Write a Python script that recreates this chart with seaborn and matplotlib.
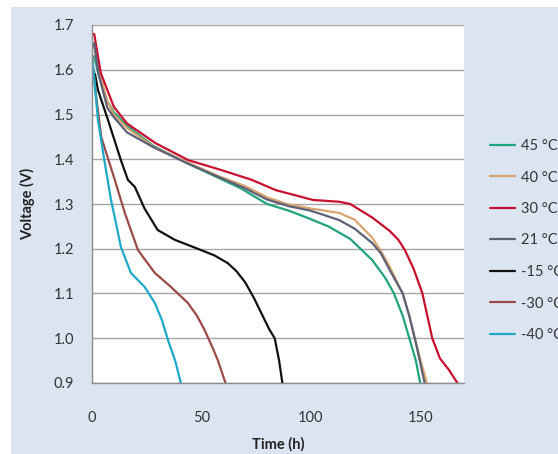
import numpy as np
import pandas as pd
import matplotlib
matplotlib.use("Agg")
import matplotlib.pyplot as plt
from matplotlib.patches import Rectangle
import seaborn as sns

labels = ["45 °C", "40 °C", "30 °C", "21 °C", "-15 °C", "-30 °C", "-40 °C"]
colors = ["#1fa37c", "#d9a46e", "#c8102e", "#5c6178", "#111111", "#9a4b47", "#1fa9c9"]

t_45 = [0, 1, 3, 7, 10, 16, 28, 44, 58, 68, 80, 90, 98, 108, 118, 128, 134, 138, 142, 145, 148, 150]
v_45 = [1.63, 1.63, 1.59, 1.53, 1.505, 1.475, 1.43, 1.39, 1.358, 1.335, 1.30, 1.285, 1.27, 1.25, 1.222, 1.175, 1.135, 1.10, 1.05, 1.00, 0.95, 0.90]

t_40 = [0, 1, 3, 7, 10, 16, 28, 44, 58, 70, 80, 89, 100, 113, 120, 128, 132, 136, 142, 145, 148, 153]
v_40 = [1.66, 1.65, 1.60, 1.53, 1.50, 1.47, 1.428, 1.392, 1.362, 1.34, 1.315, 1.30, 1.29, 1.28, 1.265, 1.225, 1.195, 1.16, 1.10, 1.05, 0.99, 0.90]

t_30 = [0, 1, 4, 10, 16, 29, 44, 59, 73, 84, 101, 113, 118, 128, 136, 140, 143, 147, 151, 155.5, 159, 163, 167]
v_30 = [1.68, 1.68, 1.593, 1.517, 1.48, 1.436, 1.398, 1.376, 1.354, 1.331, 1.309, 1.305, 1.30, 1.27, 1.24, 1.22, 1.197, 1.155, 1.10, 1.00, 0.955, 0.93, 0.90]

t_21 = [0, 1, 3, 7, 10, 16, 28, 44, 58, 70, 80, 90, 100, 113, 120, 128, 132, 136, 142, 145, 148, 152]
v_21 = [1.65, 1.66, 1.59, 1.515, 1.494, 1.46, 1.427, 1.39, 1.36, 1.335, 1.31, 1.295, 1.285, 1.264, 1.245, 1.213, 1.19, 1.153, 1.10, 1.05, 0.99, 0.90]

t_m15 = [0, 1.4, 2.7, 7.3, 13.2, 16.4, 19.6, 24, 30, 37.8, 48.3, 56, 62, 66, 70, 74, 78, 81, 83.5, 85.5, 87]
v_m15 = [1.60, 1.59, 1.555, 1.488, 1.398, 1.354, 1.338, 1.29, 1.242, 1.22, 1.20, 1.185, 1.168, 1.15, 1.125, 1.09, 1.05, 1.02, 1.00, 0.95, 0.90]

t_m30 = [0, 1.4, 4.2, 10.4, 15, 21, 28.7, 36, 43.8, 48, 51.5, 55, 57.5, 61]
v_m30 = [1.63, 1.56, 1.45, 1.354, 1.28, 1.197, 1.146, 1.115, 1.079, 1.05, 1.018, 0.98, 0.951, 0.90]

t_m40 = [0, 0.5, 2.7, 5.9, 8.7, 10.4, 13.2, 17.8, 24, 28.7, 32, 34.7, 38, 40.6]
v_m40 = [1.63, 1.61, 1.488, 1.39, 1.309, 1.27, 1.204, 1.146, 1.115, 1.079, 1.04, 0.996, 0.95, 0.90]

series_t = [t_45, t_40, t_30, t_21, t_m15, t_m30, t_m40]
series_v = [v_45, v_40, v_30, v_21, v_m15, v_m30, v_m40]

frames = []
for lab, tt, vv in zip(labels, series_t, series_v):
    frames.append(pd.DataFrame({"Time": tt, "Voltage": vv, "Temp": lab}))
df = pd.concat(frames, ignore_index=True)

sns.set_theme(style="white")
plt.rcParams["font.family"] = ["Lato", "DejaVu Sans"]

W, H = 558, 454
fig = plt.figure(figsize=(W / 100, H / 100), dpi=100, facecolor="white")
bg = "#dbe5f1"
fig.patches.append(Rectangle((11 / W, 0), 1, 1 - 7 / H, transform=fig.transFigure,
                             facecolor=bg, edgecolor="none", zorder=-10))

ax = fig.add_axes([92 / W, 1 - 383 / H, (464 - 92) / W, (383 - 25) / H])
ax.set_facecolor("white")

sns.lineplot(data=df, x="Time", y="Voltage", hue="Temp", hue_order=labels,
             palette=dict(zip(labels, colors)), sort=False, estimator=None,
             units="Temp", linewidth=1.6, ax=ax, legend=True)

ax.set_xlim(0, 170)
ax.set_ylim(0.9, 1.7)
ax.set_xticks([0, 50, 100, 150])
ax.set_yticks(np.round(np.arange(0.9, 1.71, 0.1), 1))
ax.set_yticklabels([f"{v:.1f}" for v in np.arange(0.9, 1.71, 0.1)])
ax.yaxis.grid(True, color="#a6a6a6", linewidth=1.0)
ax.xaxis.grid(False)
for s in ["top", "right"]:
    ax.spines[s].set_visible(False)
for s in ["left", "bottom"]:
    ax.spines[s].set_color("#8c8c8c")
    ax.spines[s].set_linewidth(1.0)
ax.tick_params(axis="y", direction="out", length=5, width=1, color="#8c8c8c",
               labelsize=10.5, labelcolor="#333333", pad=8)
ax.tick_params(axis="x", direction="in", length=5, width=1, color="#8c8c8c",
               labelsize=10.5, labelcolor="#333333", pad=20)
ax.set_xlabel("Time (h)", fontsize=10.5, fontweight="bold", color="#222222", labelpad=9)
ax.set_ylabel("Voltage (V)", fontsize=10.5, fontweight="bold", color="#222222", labelpad=13)

handles, labs = ax.get_legend_handles_labels()
ax.legend(handles, labs, loc="upper left", bbox_to_anchor=(490 / W, 1 - 139 / H),
          bbox_transform=fig.transFigure, frameon=False, fontsize=10.5,
          handlelength=1.7, handletextpad=0.4, labelspacing=1.2, borderaxespad=0,
          borderpad=0, labelcolor="#333333")

fig.savefig("out.png", dpi=100, facecolor=fig.get_facecolor())
